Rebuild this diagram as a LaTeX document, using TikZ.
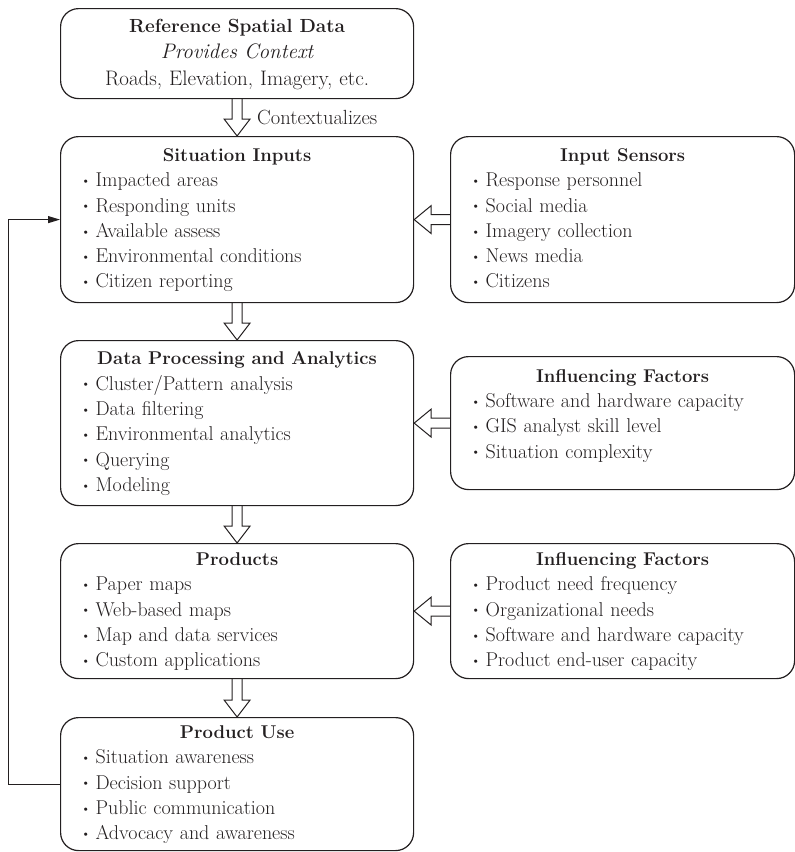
\documentclass[tikz,border=0pt]{standalone}
\usepackage{graphicx}
\usetikzlibrary{arrows.meta,calc}
\definecolor{ink}{HTML}{231F20}
\setlength{\parindent}{0pt}
\setlength{\parskip}{0pt}
\newcommand\bul{\makebox[15pt][l]{\raisebox{1.3pt}{\scalebox{0.72}{\textbullet}}}}
\newcommand\hd[1]{{\centering\fontsize{18.5}{25.3}\selectfont\bfseries #1\strut\par}}
\newcommand\itm[1]{\bul#1\strut\par}
\newcommand\hollowdown[2]{%
  \draw[harrow] let \p1=(#1.south), \p2=(#2.north) in
   (\x1-5pt,\y1) -- (\x1-5pt,\y2+17pt) -- (\x1-13pt,\y2+17pt) -- (\x1,\y2)
   -- (\x1+13pt,\y2+17pt) -- (\x1+5pt,\y2+17pt) -- (\x1+5pt,\y1);}
\newcommand\hollowleft[2]{%
  \draw[harrow] let \p1=(#1.west), \p2=(#2.east) in
   (\x1,\y1+5pt) -- (\x2+17pt,\y1+5pt) -- (\x2+17pt,\y1+14pt) -- (\x2,\y1)
   -- (\x2+17pt,\y1-14pt) -- (\x2+17pt,\y1-5pt) -- (\x1,\y1-5pt);}
\tikzset{
  box/.style={draw=ink, line width=1.2pt, rounded corners=18pt, anchor=north west,
    inner xsep=20pt, inner ysep=0pt, align=left, text=ink,
    font=\fontsize{20}{25.3}\selectfont},
  lbox/.style={box, minimum width=353pt, text width=313pt},
  rbox/.style={box, minimum width=344pt, text width=304pt},
  harrow/.style={draw=ink, line width=1pt, line join=miter},
  fbline/.style={draw=ink, line width=1pt, -{Triangle[length=12pt,width=7pt]}},
}
\begin{document}
\begin{tikzpicture}[x=1pt,y=-1pt]
\useasboundingbox (0,0) rectangle (795,852);

\node[lbox, minimum height=90pt, align=center, inner xsep=10pt, text width=333pt,
      font=\fontsize{21}{26.5}\selectfont] (ref) at (60,8)
  {{\fontsize{19}{26.5}\selectfont\bfseries Reference Spatial Data\strut}\\
   {\itshape Provides Context\strut}\\
   Roads, Elevation, Imagery, etc.\strut};

\node[lbox, minimum height=166pt] (sit) at (60,136)
  {\hd{Situation Inputs}
   \itm{Impacted areas}
   \itm{Responding units}
   \itm{Available assess}
   \itm{Environmental conditions}
   \itm{Citizen reporting}};

\node[rbox, minimum height=166pt] (sens) at (450,136)
  {\hd{Input Sensors}
   \itm{Response personnel}
   \itm{Social media}
   \itm{Imagery collection}
   \itm{News media}
   \itm{Citizens}};

\node[lbox, minimum height=165pt] (dp) at (60,340)
  {\hd{Data Processing and Analytics}
   \itm{Cluster/Pattern analysis}
   \itm{Data filtering}
   \itm{Environmental analytics}
   \itm{Querying}
   \itm{Modeling}};

\node[rbox, minimum height=133pt] (inf1) at (450,356)
  {\hd{Influencing Factors}
   \itm{Software and hardware capacity}
   \itm{GIS analyst skill level}
   \itm{Situation complexity}
   \vspace*{16pt}};

\node[lbox, minimum height=135pt] (prod) at (60,543)
  {\hd{Products}
   \itm{Paper maps}
   \itm{Web-based maps}
   \itm{Map and data services}
   \itm{Custom applications}};

\node[rbox, minimum height=135pt] (inf2) at (450,543)
  {\hd{Influencing Factors}
   \itm{Product need frequency}
   \itm{Organizational needs}
   \itm{Software and hardware capacity}
   \itm{Product end-user capacity}};

\node[lbox, minimum height=133pt] (use) at (60,717)
  {\hd{Product Use}
   \itm{Situation awareness}
   \itm{Decision support}
   \itm{Public communication}
   \itm{Advocacy and awareness}};

\hollowdown{ref}{sit}
\node[anchor=base west, text=ink, font=\fontsize{20.5}{24}\selectfont, inner sep=0pt] (ctx) at (257,124) {Contextualizes};
\hollowdown{sit}{dp}
\hollowdown{dp}{prod}
\hollowdown{prod}{use}
\hollowleft{sens}{sit}
\hollowleft{inf1}{dp}
\hollowleft{inf2}{prod}

\coordinate (fb) at (8,785);
\draw[fbline] (use.west) -- (use.west -| fb) -- (fb |- sit.west) -- (sit.west);
\end{tikzpicture}
\end{document}
